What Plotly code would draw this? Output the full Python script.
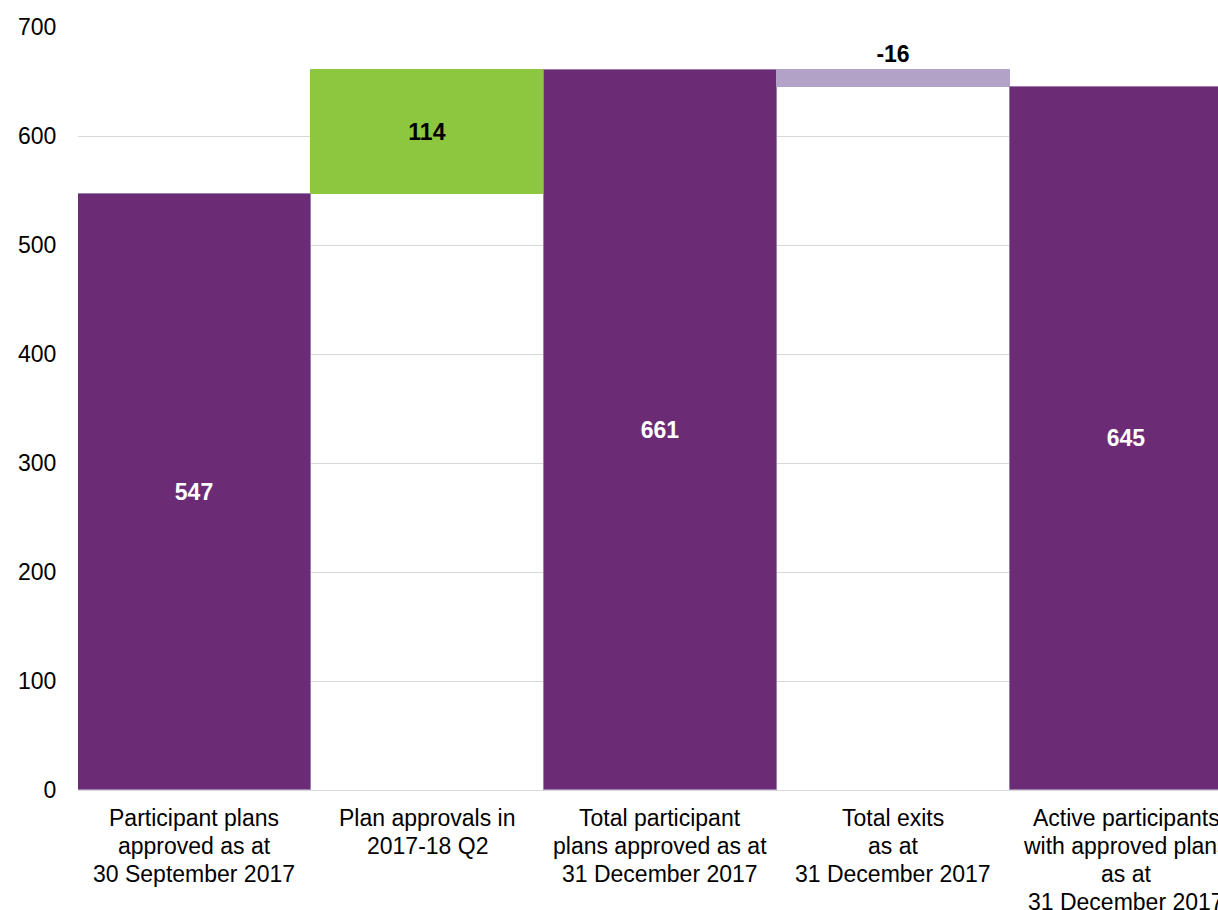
import plotly.graph_objects as go

# Waterfall steps: opening total, change in quarter, closing total, exits, active total
categories = [
    ["Participant plans", "approved as at", "30 September 2017"],
    ["Plan approvals in", "2017-18 Q2"],
    ["Total participant", "plans approved as at", "31 December 2017"],
    ["Total exits", "as at", "31 December 2017"],
    ["Active participants", "with approved plans", "as at", "31 December 2017"],
]
opening = 547
approvals = 114
exits = -16

totals_approved = opening + approvals
active = totals_approved + exits

heights = [opening, approvals, totals_approved, abs(exits), active]
bases = [0, opening, 0, totals_approved + exits, 0]
labels = [str(opening), str(approvals), str(totals_approved), str(exits), str(active)]
y_ticks = [0, 100, 200, 300, 400, 500, 600, 700]

FONT = "Liberation Sans, Arial, sans-serif"
PURPLE = "#6B2C75"
PURPLE_EDGE = "#9C7DAE"
GREEN = "#8DC63F"
LILAC = "#B2A2C8"
colors = [PURPLE, GREEN, PURPLE, LILAC, PURPLE]
edges = [PURPLE_EDGE, GREEN, PURPLE_EDGE, LILAC, PURPLE_EDGE]
text_colors = ["white", "black", "white", "black", "white"]
text_pos = ["inside", "inside", "inside", "outside", "inside"]

xs = list(range(len(categories)))

fig = go.Figure(
    go.Bar(
        x=xs,
        y=heights,
        base=bases,
        width=1.0,
        marker=dict(color=colors, line=dict(color=edges, width=1)),
        text=labels,
        textposition=text_pos,
        insidetextanchor="middle",
        textangle=0,
        textfont=dict(family=FONT, size=23, color=text_colors, weight="bold"),
        cliponaxis=False,
        hoverinfo="skip",
    )
)

# Category labels, one line each, set 28 px apart below the axis
LINE_STEP = 28
for x, lines in zip(xs, categories):
    for k, line in enumerate(lines):
        fig.add_annotation(
            x=x, xref="x", y=0, yref="paper",
            text=line, showarrow=False,
            xanchor="center", yanchor="middle",
            yshift=-(28 + k * LINE_STEP),
            font=dict(family=FONT, size=23, color="black"),
        )

fig.update_layout(
    width=1218,
    height=910,
    margin=dict(l=78, r=0, t=27, b=120),
    paper_bgcolor="white",
    plot_bgcolor="white",
    showlegend=False,
    bargap=0,
    font=dict(family=FONT, size=23, color="black"),
)

fig.update_xaxes(
    range=[-0.5, 4.393],
    showticklabels=False,
    showgrid=False,
    zeroline=False,
    showline=False,
    ticks="",
)

fig.update_yaxes(
    range=[0, 700],
    tickvals=y_ticks,
    showgrid=True,
    gridcolor="#D9D9D9",
    gridwidth=1,
    zeroline=True,
    zerolinecolor="#D9D9D9",
    zerolinewidth=1,
    showline=False,
    ticks="outside",
    ticklen=16,
    tickcolor="rgba(0,0,0,0)",
    tickfont=dict(family=FONT, size=23),
)

fig.write_html("out.html")
